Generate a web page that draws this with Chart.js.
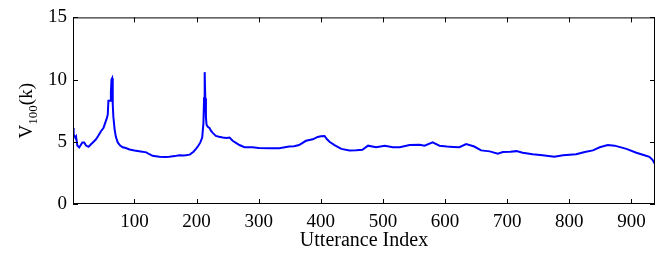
<!DOCTYPE html>
<html>
<head>
<meta charset="utf-8">
<script src="https://cdn.jsdelivr.net/npm/chart.js@4"></script>
<style>
  body { margin: 0; background: #fff; }
  #wrap { width: 666px; height: 253px; }
</style>
</head>
<body>
<div id="wrap"><canvas id="chart" width="666" height="253"></canvas></div>
<script>
// utterance index and V_100(k)
const utterance = [1, 2, 3, 5, 6, 8, 11, 13, 16, 19, 22, 26, 30, 33, 38, 42, 46, 50, 52, 55.5,
  57, 58, 61, 62, 63, 64, 65, 66, 68, 70, 73, 77, 81, 86, 92, 100, 110, 119, 124, 129,
  140, 150, 156, 165, 172, 180, 189, 195, 199, 203, 206, 209, 211, 212, 213, 214, 215, 216, 218, 221,
  223, 226, 231, 236, 242, 248, 253, 258, 264, 269, 277, 290, 300, 317, 333, 349, 357, 365, 376, 387,
  395, 400, 406, 410, 414, 422, 433, 446, 457, 467, 476, 489, 503, 516, 527, 543, 559, 567, 580, 591,
  603, 613, 623, 634, 647, 658, 672, 685, 693, 705, 715, 725, 741, 757, 776, 790, 811, 825, 838, 849,
  862, 873, 892, 908, 921, 929, 934, 938];
const v100 = [6.1, 5.5, 5.5, 5.3, 5.4, 4.7, 4.55, 4.7, 4.95, 4.95, 4.7, 4.6, 4.8, 4.95, 5.2, 5.5, 5.85, 6.1, 6.4, 6.9,
  7.2, 8.3, 8.3, 9.0, 10.0, 10.1, 8.0, 7.0, 6.0, 5.4, 4.95, 4.7, 4.56, 4.5, 4.38, 4.3, 4.22, 4.15, 4.0, 3.87,
  3.8, 3.78, 3.8, 3.85, 3.92, 3.9, 3.97, 4.2, 4.43, 4.7, 4.95, 5.34, 6.5, 8.5, 10.6, 8.5, 7.0, 6.37, 6.2, 6.1,
  5.9, 5.72, 5.47, 5.4, 5.34, 5.3, 5.34, 5.08, 4.9, 4.74, 4.56, 4.56, 4.5, 4.48, 4.48, 4.62, 4.65, 4.74, 5.08, 5.2,
  5.39, 5.45, 5.47, 5.2, 5.0, 4.74, 4.43, 4.31, 4.33, 4.36, 4.69, 4.56, 4.69, 4.56, 4.56, 4.74, 4.77, 4.69, 4.95, 4.69,
  4.62, 4.59, 4.56, 4.82, 4.62, 4.31, 4.23, 4.05, 4.18, 4.2, 4.25, 4.12, 4.0, 3.92, 3.79, 3.92, 4.0, 4.18, 4.31, 4.56,
  4.74, 4.69, 4.43, 4.12, 3.92, 3.79, 3.55, 3.2];
const xTicks = [100, 200, 300, 400, 500, 600, 700, 800, 900];
const yTicks = [0, 5, 10, 15];

const serif = 'Liberation Serif';

// matlab style box with inward ticks + the V_100(k) label
const boxPlugin = {
  id: 'box',
  afterDraw(chart) {
    const c = chart.ctx;
    const a = chart.chartArea;
    const xs = chart.scales.x, ys = chart.scales.y;
    c.save();
    c.strokeStyle = '#000';
    c.lineWidth = 1;
    c.strokeRect(a.left + 0.5, a.top + 0.5, a.right - a.left - 1, a.bottom - a.top - 1);
    c.beginPath();
    xTicks.forEach(v => {
      const px = Math.round(xs.getPixelForValue(v)) + 0.5;
      c.moveTo(px, a.bottom); c.lineTo(px, a.bottom - 5);
      c.moveTo(px, a.top); c.lineTo(px, a.top + 5);
    });
    yTicks.forEach(v => {
      const py = Math.round(ys.getPixelForValue(v)) + 0.5;
      c.moveTo(a.left, py); c.lineTo(a.left + 5, py);
      c.moveTo(a.right, py); c.lineTo(a.right - 5, py);
    });
    c.stroke();

    // y title with subscript
    c.fillStyle = '#000';
    c.translate(32, (a.top + a.bottom) / 2);
    c.rotate(-Math.PI / 2);
    const big = '19px "' + serif + '"', small = '13px "' + serif + '"';
    c.font = big; const wV = c.measureText('V').width; const wK = c.measureText('(k)').width;
    c.font = small; const wS = c.measureText('100').width;
    let x0 = -(wV + wS + wK) / 2;
    c.textBaseline = 'alphabetic';
    c.font = big; c.fillText('V', x0, 0);
    c.font = small; c.fillText('100', x0 + wV, 5);
    c.font = big; c.fillText('(k)', x0 + wV + wS, 0);
    c.restore();
  }
};

new Chart(document.getElementById('chart'), {
  type: 'line',
  data: {
    datasets: [{
      data: utterance.map((u, i) => ({ x: u, y: v100[i] })),
      borderColor: '#0000ff',
      borderWidth: 2,
      pointRadius: 0,
      tension: 0,
      fill: false
    }]
  },
  options: {
    responsive: false,
    animation: false,
    layout: { padding: { top: 10, right: 11, left: 0, bottom: 0 } },
    plugins: { legend: { display: false }, tooltip: { enabled: false } },
    scales: {
      x: {
        type: 'linear',
        min: 1,
        max: 938,
        afterBuildTicks: s => { s.ticks = xTicks.map(v => ({ value: v })); },
        grid: { display: false, drawTicks: false },
        border: { display: false },
        ticks: { color: '#000', font: { family: serif, size: 19 }, padding: 7, maxRotation: 0 },
        title: { display: true, text: 'Utterance Index', color: '#000', font: { family: serif, size: 20 }, padding: { top: -5, bottom: 0 } },
        afterFit: s => { s.height = 49; }
      },
      y: {
        min: 0,
        max: 15,
        afterBuildTicks: s => { s.ticks = yTicks.map(v => ({ value: v })); },
        grid: { display: false, drawTicks: false },
        border: { display: false },
        ticks: { color: '#000', font: { family: serif, size: 19 }, padding: 6 },
        afterFit: s => { s.width = 73; }
      }
    }
  },
  plugins: [boxPlugin]
});
</script>
</body>
</html>
